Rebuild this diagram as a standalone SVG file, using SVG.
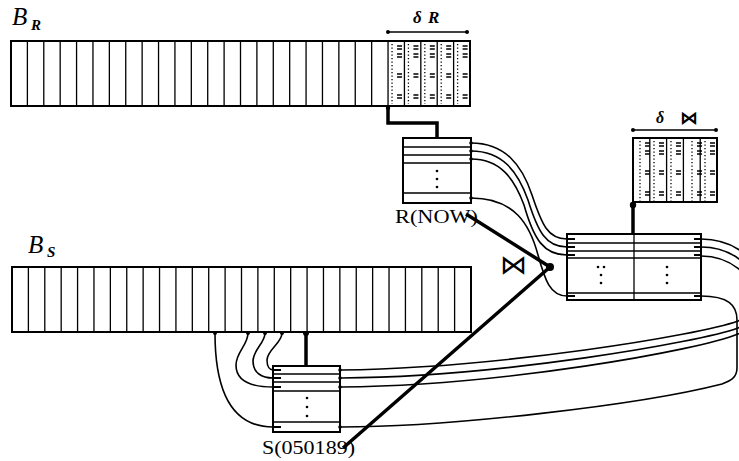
<svg xmlns="http://www.w3.org/2000/svg" width="739" height="461" viewBox="0 0 739 461">
<style>
.bar{fill:#fff;stroke:#000;stroke-width:2}
.cell{stroke:#000;stroke-width:1.3;fill:none}
.box{fill:#fff;stroke:#000;stroke-width:2}
.row{stroke:#000;stroke-width:1.3;fill:none}
.thin{fill:none;stroke:#000;stroke-width:1.6}
.thick{fill:none;stroke:#000;stroke-width:3.5}
.dot{fill:#000}
.dotted{stroke:#000;stroke-width:1.3;stroke-dasharray:1.3 2.2;fill:none}
.eq{stroke:#000;stroke-width:1.3;fill:none}
.mark{stroke:#000;stroke-width:2.2}
.lbl{font-family:"Liberation Serif","DejaVu Serif",serif;fill:#000}
.sym{font-family:"DejaVu Sans",sans-serif;fill:#000}
</style>
<defs>
<path id="cells" class="cell" d="M16.39,0v65M32.79,0v65M49.18,0v65M65.57,0v65M81.96,0v65M98.36,0v65M114.75,0v65M131.14,0v65M147.54,0v65M163.93,0v65M180.32,0v65M196.71,0v65M213.11,0v65M229.5,0v65M245.89,0v65M262.29,0v65M278.68,0v65M295.07,0v65M311.46,0v65M327.86,0v65M344.25,0v65M360.64,0v65M377.04,0v65M393.43,0v65M409.82,0v65M426.21,0v65M442.61,0v65"/>
<g id="dcell">
<path class="dotted" d="M4,3V63"/>
<path class="eq" d="M9,5h5M9,8h5M9,13h5M9,16h5M9,33h5M9,36h5M9,54h5M9,57h5"/>
</g>
<g id="jrows">
<path class="row" d="M0,9h134M0,17h134M0,24h134M0,59h134"/>
</g>
</defs>

<g id="connectors">
<path class="thick" d="M388,107V123H437V138"/>
<circle class="dot" cx="388" cy="108" r="2.2"/>
<path class="thin" d="M471,143C505,143 522,165 532,195C542,225 548,239 567,239"/>
<path class="thin" d="M471,151C503,151 518,172 528,200C538,232 546,247 567,247"/>
<path class="thin" d="M471,159C500,159 514,178 524,205C534,240 544,255 567,255"/>
<path class="thin" d="M471,198C515,198 530,225 538,255C545,280 550,296 567,296"/>
<path class="thin" d="M701,239C735,239 760,260 765,290C768,315 745,318 738,321C700,335 500,368 341,370"/>
<path class="thin" d="M701,247C733,247 757,268 761,295C764,320 745,325 738,328C700,342 500,377 341,378"/>
<path class="thin" d="M701,256C730,256 753,275 757,300C760,325 745,331 738,334C700,350 500,386 341,387"/>
<path class="thin" d="M701,296C728,296 737,305 737,320L737,368C737,378 730,381 722,384C640,405 450,427 341,427"/>
<path class="thin" d="M215,333C215,385 228,427 273,427"/>
<path class="thin" d="M248,333C248,345 236,352 236,365C236,380 250,387 273,387"/>
<path class="thin" d="M265,333C265,343 253,350 253,361C253,373 262,378 273,378"/>
<path class="thin" d="M282,333C282,343 267,350 267,360C267,367 270,370 273,370"/>
<path class="thick" d="M306,333V366"/>
<circle class="dot" cx="215" cy="333" r="2"/>
<circle class="dot" cx="248" cy="333" r="2"/>
<circle class="dot" cx="265" cy="333" r="2"/>
<circle class="dot" cx="282" cy="333" r="2"/>
<circle class="dot" cx="306" cy="333" r="3"/>
<path class="thick" d="M633,205V234"/>
<circle class="dot" cx="633" cy="205" r="3.2"/>
<path class="thick" d="M466,214L550,267L343,448"/>
<circle class="dot" cx="550" cy="267" r="4"/>
</g>

<g id="B_R">
<text class="lbl" x="12" y="25" font-size="25" font-style="italic">B</text>
<text class="lbl" x="31" y="30" font-size="15" font-style="italic" font-weight="bold">R</text>
<rect class="bar" x="11" y="41" width="459" height="65"/>
<use href="#cells" x="11" y="41"/>
</g>

<g id="deltaR">
<use href="#dcell" x="388.04" y="41"/>
<use href="#dcell" x="404.43" y="41"/>
<use href="#dcell" x="420.82" y="41"/>
<use href="#dcell" x="437.21" y="41"/>
<use href="#dcell" x="453.61" y="41"/>
<line class="cell" x1="388" y1="32" x2="467" y2="32" stroke-width="1.8"/>
<circle class="dot" cx="388" cy="32" r="2"/>
<circle class="dot" cx="467" cy="32" r="2"/>
<text class="lbl" x="413" y="23" font-size="17" font-style="italic" font-weight="bold">δ</text>
<text class="lbl" x="428" y="23" font-size="17" font-style="italic" font-weight="bold">R</text>
</g>

<g id="B_S">
<text class="lbl" x="28" y="253" font-size="25" font-style="italic">B</text>
<text class="lbl" x="47" y="257" font-size="15" font-style="italic" font-weight="bold">S</text>
<rect class="bar" x="12" y="267" width="459" height="65"/>
<use href="#cells" x="12" y="267"/>
</g>

<g id="R_NOW">
<rect class="box" x="403" y="138" width="68" height="65"/>
<path class="row" d="M403,147h68M403,155h68M403,163h68M403,193h68"/>
<circle class="dot" cx="437" cy="171" r="1.3"/>
<circle class="dot" cx="437" cy="179" r="1.3"/>
<circle class="dot" cx="437" cy="187" r="1.3"/>
<circle class="dot" cx="471" cy="143" r="1.8"/>
<circle class="dot" cx="471" cy="151" r="1.8"/>
<circle class="dot" cx="471" cy="159" r="1.8"/>
<circle class="dot" cx="471" cy="198" r="1.8"/>
<text class="lbl" x="395" y="223" font-size="19" textLength="83" lengthAdjust="spacingAndGlyphs">R(NOW)</text>
</g>

<g id="S_node">
<rect class="box" x="273" y="366" width="67" height="66"/>
<path class="row" d="M273,374h67M273,382h67M273,391h67M273,422h67"/>
<path class="mark" d="M273,370h8M273,378h8M273,387h8M273,427h8"/>
<circle class="dot" cx="307" cy="398" r="1.3"/>
<circle class="dot" cx="307" cy="407" r="1.3"/>
<circle class="dot" cx="307" cy="416" r="1.3"/>
<circle class="dot" cx="340" cy="370" r="1.8"/>
<circle class="dot" cx="340" cy="378" r="1.8"/>
<circle class="dot" cx="340" cy="387" r="1.8"/>
<circle class="dot" cx="340" cy="427" r="1.8"/>
<text class="lbl" x="262" y="454" font-size="19" textLength="93" lengthAdjust="spacingAndGlyphs">S(050189)</text>
</g>

<g id="join">
<rect class="box" x="567" y="234" width="134" height="66"/>
<use href="#jrows" x="567" y="234"/>
<line class="row" x1="634" y1="234" x2="634" y2="300"/>
<path class="mark" d="M567,239h8M567,247h8M567,255h8M567,296h8M694,239h7M694,247h7M694,255h7M694,296h7"/>
<circle class="dot" cx="598" cy="267" r="1.3"/>
<circle class="dot" cx="604" cy="267" r="1.3"/>
<circle class="dot" cx="601" cy="275" r="1.3"/>
<circle class="dot" cx="601" cy="283" r="1.3"/>
<circle class="dot" cx="667" cy="267" r="1.3"/>
<circle class="dot" cx="667" cy="275" r="1.3"/>
<circle class="dot" cx="667" cy="283" r="1.3"/>
</g>

<g id="join_symbol">
<text class="sym" x="500" y="274" font-size="27">⋈</text>
</g>

<g id="delta_join">
<rect class="box" x="633" y="138" width="84" height="64"/>
<path class="cell" d="M649.8,138v64M666.6,138v64M683.4,138v64M700.2,138v64"/>
<use href="#dcell" x="636" y="138"/>
<use href="#dcell" x="650" y="138"/>
<use href="#dcell" x="667" y="138"/>
<use href="#dcell" x="688" y="138"/>
<use href="#dcell" x="701" y="138"/>
<line class="cell" x1="633" y1="130" x2="716" y2="130" stroke-width="1.8"/>
<circle class="dot" cx="633" cy="130" r="2"/>
<circle class="dot" cx="716" cy="130" r="2"/>
<text class="lbl" x="656" y="123" font-size="16" font-style="italic" font-weight="bold">δ</text>
<text class="sym" x="680" y="124" font-size="18" font-weight="bold">⋈</text>
</g>
</svg>
